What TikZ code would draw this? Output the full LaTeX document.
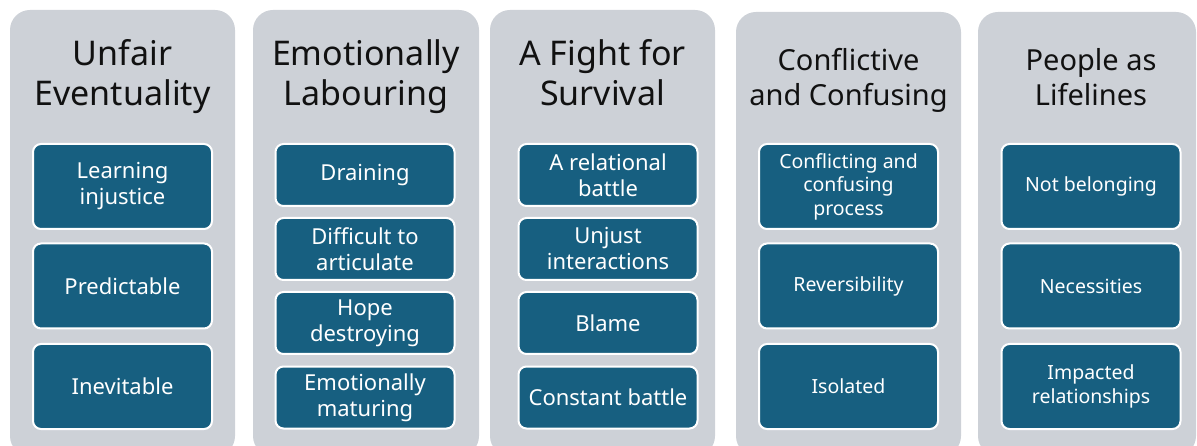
\documentclass[tikz,border=0pt]{standalone}
\usepackage{fontspec}
\setmainfont{Noto Sans}
\definecolor{panelgrey}{HTML}{CDD1D7}
\definecolor{themeteal}{HTML}{175F80}
\definecolor{titleink}{HTML}{111111}
% fixed line extents so that every heading is centred on its baselines
\newcommand\headtop{\rule{0pt}{0.8em}}
\newcommand\headbot{\rule[-0.25em]{0pt}{0.25em}}
\tikzset{
  panel/.style={fill=panelgrey, rounded corners=20pt},
  heading/.style={text=titleink, align=center, inner sep=0pt,
    font=\fontsize{34}{40}\selectfont},
  smallheading/.style={heading, font=\fontsize{29}{35}\selectfont},
  subtheme/.style={draw=white, line width=2pt, fill=themeteal, text=white,
    rounded corners=8pt, align=center, inner sep=0pt,
    minimum width=179pt, font=\fontsize{22}{26}\selectfont},
  tallbox/.style={subtheme, minimum height=85pt},
  shortbox/.style={subtheme, minimum height=62pt},
  smalltext/.style={font=\fontsize{19.5}{23.5}\selectfont},
}
\begin{document}
\begin{tikzpicture}[x=1pt, y=-1pt]
\useasboundingbox (0,0) rectangle (1197,446);
\clip (0,0) rectangle (1197,446);

% grey column panels
\fill[panel] (10,10) rectangle (235,456);
\fill[panel] (253,10) rectangle (479,456);
\fill[panel] (490,10) rectangle (715,456);
\fill[panel] (736,12) rectangle (961,456);
\fill[panel] (978,12) rectangle (1196,456);

% column 1
\node[heading] (t1) at (122.5,76.6) {\headtop Unfair\\Eventuality\headbot};
\node[tallbox] (a1) at (122.5,186.5) {Learning\\injustice};
\node[tallbox] (a2) at (122.5,286) {Predictable};
\node[tallbox] (a3) at (122.5,386.5) {Inevitable};

% column 2
\node[heading] (t2) at (366,76.6) {\headtop Emotionally\\Labouring\headbot};
\node[shortbox] (b1) at (365,175) {Draining};
\node[shortbox] (b2) at (365,249) {Difficult to\\articulate};
\node[shortbox] (b3) at (365,323) {Hope\\destroying};
\node[shortbox] (b4) at (365,397.5) {Emotionally\\maturing};

% column 3
\node[heading] (t3) at (602.5,76.6) {\headtop A Fight for\\Survival\headbot};
\node[shortbox] (c1) at (608,175) {A relational\\battle};
\node[shortbox] (c2) at (608,249) {Unjust\\interactions};
\node[shortbox] (c3) at (608,323) {Blame};
\node[shortbox] (c4) at (608,397.5) {Constant battle};

% column 4
\node[smallheading] (t4) at (848.5,80.5) {\headtop Conflictive\\and Confusing\headbot};
\node[tallbox, smalltext] (d1) at (848.5,186.5) {Conflicting and\\confusing\\process};
\node[tallbox, smalltext] (d2) at (848.5,286) {Reversibility};
\node[tallbox, smalltext] (d3) at (848.5,386.5) {Isolated};

% column 5
\node[smallheading] (t5) at (1091,80.5) {\headtop People as\\Lifelines\headbot};
\node[tallbox, smalltext] (e1) at (1091,186.5) {Not belonging};
\node[tallbox, smalltext] (e2) at (1091,286) {Necessities};
\node[tallbox, smalltext] (e3) at (1091,386.5) {Impacted\\relationships};
\end{tikzpicture}
\end{document}
